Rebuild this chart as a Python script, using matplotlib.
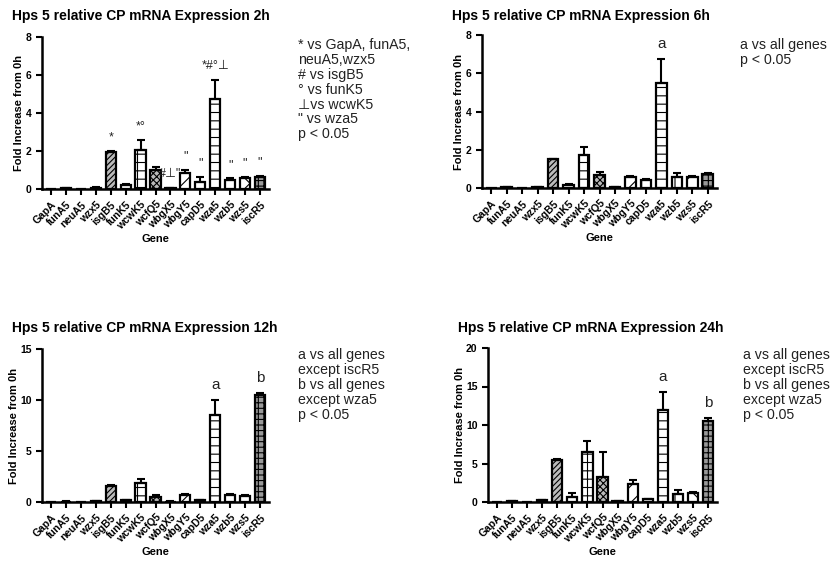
import matplotlib
matplotlib.use("Agg")
import matplotlib.pyplot as plt
import numpy as np

plt.rcParams['font.family'] = ['Liberation Sans', 'DejaVu Sans']
plt.rcParams['hatch.linewidth'] = 0.8

genes = ["GapA", "funA5", "neuA5", "wzx5", "isgB5", "funK5", "wcwK5", "wcfQ5",
         "wbgX5", "wbgY5", "capD5", "wza5", "wzb5", "wzs5", "iscR5"]

titles = ["Hps 5 relative CP mRNA Expression 2h", "Hps 5 relative CP mRNA Expression 6h",
          "Hps 5 relative CP mRNA Expression 12h", "Hps 5 relative CP mRNA Expression 24h"]

vals_2h = [0, 0.03, 0, 0.07, 1.93, 0.2, 2.05, 1.0, 0.05, 0.82, 0.35, 4.75, 0.48, 0.58, 0.65]
err_2h = [0, 0.02, 0, 0.02, 0.05, 0.05, 0.55, 0.15, 0.02, 0.2, 0.3, 1.0, 0.08, 0.05, 0.05]

vals_6h = [0, 0.03, 0, 0.05, 1.5, 0.15, 1.75, 0.7, 0.03, 0.55, 0.4, 5.5, 0.55, 0.55, 0.75]
err_6h = [0, 0.02, 0, 0.02, 0.03, 0.05, 0.4, 0.15, 0.02, 0.1, 0.05, 1.25, 0.25, 0.1, 0.05]

vals_12h = [0, 0.03, 0, 0.05, 1.6, 0.15, 1.9, 0.45, 0.03, 0.65, 0.2, 8.5, 0.7, 0.6, 10.5]
err_12h = [0, 0.02, 0, 0.02, 0.03, 0.05, 0.35, 0.2, 0.02, 0.1, 0.03, 1.5, 0.1, 0.1, 0.2]

vals_24h = [0, 0.08, 0, 0.2, 5.45, 0.7, 6.5, 3.3, 0.15, 2.3, 0.4, 12.0, 1.0, 1.2, 10.5]
err_24h = [0, 0.03, 0, 0.05, 0.1, 0.5, 1.4, 3.2, 0.03, 0.5, 0.05, 2.3, 0.5, 0.1, 0.4]

ymax = [8, 8, 15, 20]
ystep = [2, 2, 5, 5]

marks_2h = ["", "", "", "", "*", "", "*\u00b0", "", "#\u22a5\"", "\"", "\"", "*#\u00b0\u22a5", "\"", "\"", "\""]
marks_6h = [""] * 11 + ["a"] + [""] * 3
marks_12h = [""] * 11 + ["a", "", "", "b"]
marks_24h = [""] * 11 + ["a", "", "", "b"]

notes = [
    "* vs GapA, funA5,\nneuA5,wzx5\n# vs isgB5\n\u00b0 vs funK5\n\u22a5vs wcwK5\n\" vs wza5\np < 0.05",
    "a vs all genes\np < 0.05",
    "a vs all genes\nexcept iscR5\nb vs all genes\nexcept wza5\np < 0.05",
    "a vs all genes\nexcept iscR5\nb vs all genes\nexcept wza5\np < 0.05",
]

# styles per gene: (facecolor, hatch)
styles = [("white", None), ("white", None), ("white", None), ("white", None),
          ("#bbbbbb", "//////"), ("white", None), ("white", "++"), ("#bbbbbb", "xxxxx"),
          ("white", None), ("white", "//"), ("white", "+"), ("white", "--"),
          ("white", "+"), ("white", "x"), ("#999999", "+++")]

fig = plt.figure(figsize=(8.3, 5.62), dpi=100)

# axes positions in pixels: left, right, top, bottom
pos_px = [(42, 269, 37, 189), (482, 717, 35, 188), (42, 269, 349, 502), (488, 717, 348, 502)]
note_px = [(298, 38), (740, 38), (298, 348), (743, 348)]

datasets = [(vals_2h, err_2h, marks_2h), (vals_6h, err_6h, marks_6h),
            (vals_12h, err_12h, marks_12h), (vals_24h, err_24h, marks_24h)]

W, H = 830, 562
x = np.arange(len(genes))
for k in range(4):
    l, r, t, b = pos_px[k]
    ax = fig.add_axes([l / W, (H - b) / H, (r - l) / W, (b - t) / H])
    v, e, m = datasets[k]
    for i in range(len(genes)):
        fc, hatch = styles[i]
        ax.bar(x[i], v[i], width=0.68, color=fc, edgecolor="black", linewidth=1.6,
               hatch=hatch, zorder=2)
        if v[i] > 0:
            ax.errorbar(x[i], v[i], yerr=[[0], [e[i]]], fmt="none", ecolor="black",
                        elinewidth=1.5, capsize=3, capthick=1.5, zorder=3)
        if m[i]:
            top = v[i] + e[i]
            ax.text(x[i], top + ymax[k] * 0.05, m[i], ha="center", va="bottom",
                    fontsize=9 if k == 0 else 11, color="#222222")
    ax.set_xlim(-0.6, len(genes) - 0.4)
    ax.set_ylim(0, ymax[k])
    ax.set_yticks(np.arange(0, ymax[k] + 0.1, ystep[k]))
    ax.spines["top"].set_visible(False)
    ax.spines["right"].set_visible(False)
    ax.spines["left"].set_linewidth(1.8)
    ax.spines["bottom"].set_linewidth(1.8)
    ax.tick_params(axis="both", direction="out", width=1.5, length=4, labelsize=7.5)
    ax.set_xticks(x)
    ax.set_xticklabels(genes, rotation=45, ha="right", rotation_mode="anchor",
                       fontweight="bold", fontsize=7.5)
    for lab in ax.get_yticklabels():
        lab.set_fontweight("bold")
    ax.set_ylabel("Fold Increase from 0h", fontsize=8, fontweight="bold", labelpad=1)
    ax.set_xlabel("Gene", fontsize=8, fontweight="bold", labelpad=2)
    fig.text((l - 30) / W, 1 - 16 / H if k < 2 else 1 - 328 / H, titles[k],
             fontsize=10, fontweight="bold", ha="left", va="center")
    nx, ny = note_px[k]
    fig.text(nx / W, 1 - ny / H, notes[k], fontsize=10.2, ha="left", va="top",
             linespacing=1.08, color="#222222")

fig.savefig("out.png", dpi=100)
